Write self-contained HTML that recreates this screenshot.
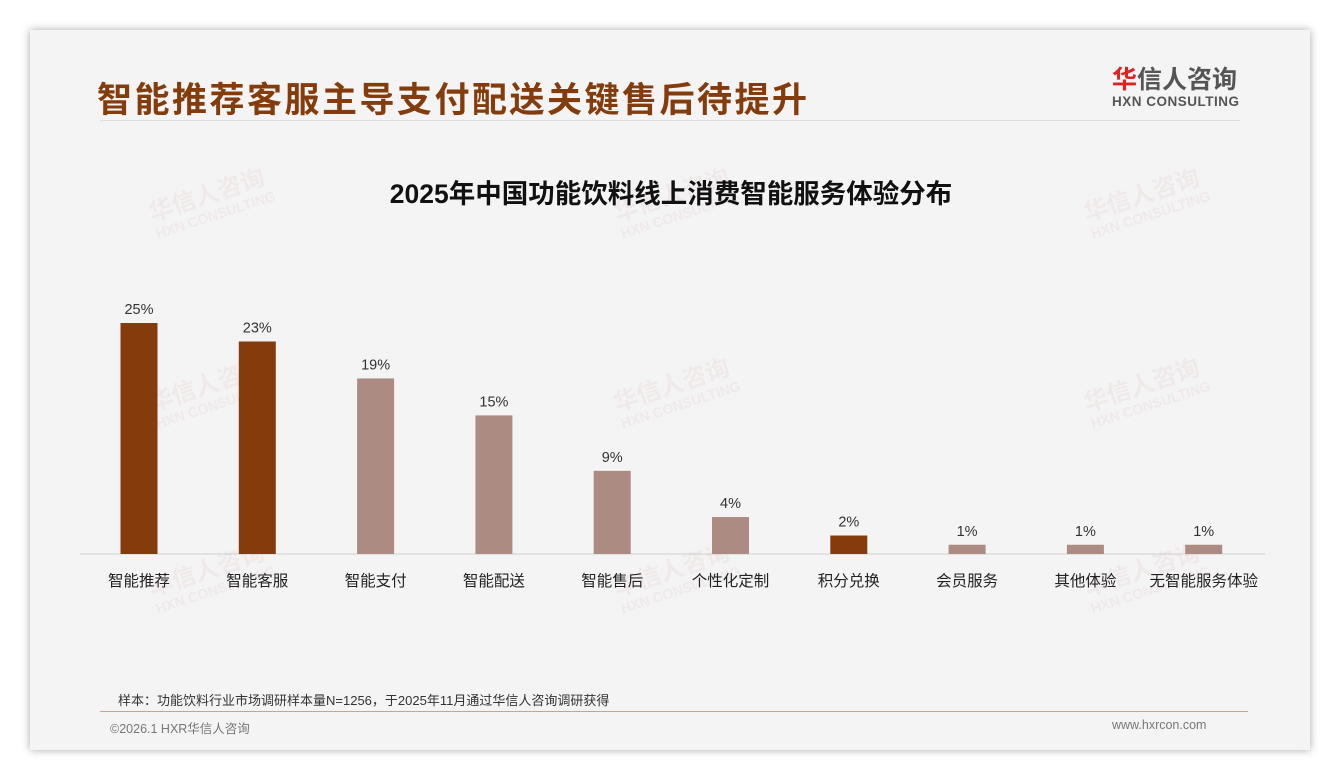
<!DOCTYPE html>
<html><head><meta charset="utf-8"><style>
body{margin:0;width:1340px;height:780px;background:#fff;position:relative;overflow:hidden;font-family:"Liberation Sans","Noto Sans CJK SC",sans-serif}
#card{position:absolute;left:30px;top:30px;width:1280px;height:720px;background:#f4f4f4;box-shadow:0 0 8px rgba(0,0,0,.35)}
.abs{position:absolute}
.wm{position:absolute;color:rgba(200,120,120,.08);font-weight:bold;font-size:24px;transform:rotate(-18deg);line-height:20px}
.wm small{display:block;font-size:14px}
</style></head><body>
<div id="card"></div>
<div class="abs" style="left:97px;top:72px;font-size:35px;font-weight:bold;color:#843c0c;letter-spacing:2.5px">智能推荐客服主导支付配送关键售后待提升</div>
<div class="abs" style="left:1112px;top:66px;width:130px">
<div style="font-size:25px;font-weight:bold;color:#555;line-height:28px"><span style="color:#d22">华</span>信人咨询</div>
<div style="font-size:13.5px;font-weight:bold;color:#555;letter-spacing:0.5px">HXN CONSULTING</div></div>
<div class="abs" style="left:100px;top:120px;width:1140px;height:1px;background:#ddd"></div>
<div class="wm" style="left:150px;top:185px">华信人咨询<small>HXN CONSULTING</small></div>
<div class="wm" style="left:615px;top:185px">华信人咨询<small>HXN CONSULTING</small></div>
<div class="wm" style="left:1085px;top:185px">华信人咨询<small>HXN CONSULTING</small></div>
<div class="wm" style="left:150px;top:375px">华信人咨询<small>HXN CONSULTING</small></div>
<div class="wm" style="left:615px;top:375px">华信人咨询<small>HXN CONSULTING</small></div>
<div class="wm" style="left:1085px;top:375px">华信人咨询<small>HXN CONSULTING</small></div>
<div class="wm" style="left:150px;top:560px">华信人咨询<small>HXN CONSULTING</small></div>
<div class="wm" style="left:615px;top:560px">华信人咨询<small>HXN CONSULTING</small></div>
<div class="wm" style="left:1085px;top:560px">华信人咨询<small>HXN CONSULTING</small></div>
<svg class="abs" style="left:0;top:0" width="1340" height="780" id="chart">
<text x="671" y="203" text-anchor="middle" font-size="26.5" font-weight="bold" fill="#111">2025年中国功能饮料线上消费智能服务体验分布</text>
<line x1="80" x2="1265" y1="554" y2="554" stroke="#d0d0d0"/>
</svg>
<div class="abs" style="left:118px;top:690px;font-size:13px;color:#333">样本：功能饮料行业市场调研样本量N=1256，于2025年11月通过华信人咨询调研获得</div>
<div class="abs" style="left:100px;top:711px;width:1148px;height:1px;background:#c9a48c"></div>
<div class="abs" style="left:110px;top:718px;font-size:12.5px;color:#777">©2026.1 HXR华信人咨询</div>
<div class="abs" style="left:1112px;top:718px;font-size:12.5px;color:#777">www.hxrcon.com</div>
<script>
const categories=["智能推荐","智能客服","智能支付","智能配送","智能售后","个性化定制","积分兑换","会员服务","其他体验","无智能服务体验"];
const values=[25,23,19,15,9,4,2,1,1,1];
const highlight=[true,true,false,false,false,false,true,false,false,false];
const svg=document.getElementById('chart');const NS='http://www.w3.org/2000/svg';
const x0=139,step=118.3,base=554,perPct=9.24,bw=37;
const xs=i=>x0+i*step, ys=v=>base-v*perPct;
categories.forEach((c,i)=>{
 const r=document.createElementNS(NS,'rect');
 r.setAttribute('x',xs(i)-bw/2);r.setAttribute('y',ys(values[i]));r.setAttribute('width',bw);r.setAttribute('height',base-ys(values[i]));
 r.setAttribute('fill',highlight[i]?'#843c0c':'#ab8b82');
 
 
 svg.appendChild(r);
 const t=document.createElementNS(NS,'text');
 t.setAttribute('x',xs(i));t.setAttribute('y',ys(values[i])-9);t.setAttribute('text-anchor','middle');t.setAttribute('font-size','14.5');t.setAttribute('fill','#333');
 t.textContent=values[i]+'%';
 
 
 svg.appendChild(t);
 const l=document.createElementNS(NS,'text');
 l.setAttribute('x',xs(i));l.setAttribute('y',586);l.setAttribute('text-anchor','middle');l.setAttribute('font-size','15.5');l.setAttribute('fill','#222');
 l.textContent=c;
 
 
 svg.appendChild(l);
});
</script>
</body></html>
